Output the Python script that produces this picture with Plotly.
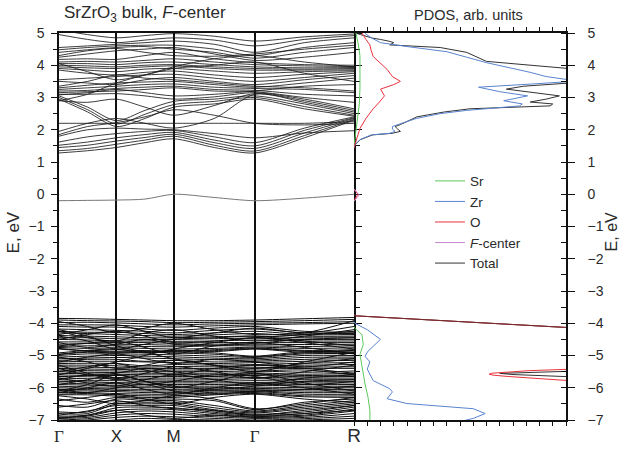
import plotly.graph_objects as go

# k-path: Γ - X - M - Γ - R (cubic Brillouin zone, distances in units of 2π/a)
k_path = [0.0, 0.25, 0.5, 0.75, 1.0, 1.354, 1.707, 2.140, 2.573]
k_sym = [0.0, 0.5, 1.0, 1.707, 2.573]
k_labels = ["<span style='font-family:Liberation Serif'>Γ</span>", "X", "M",
            "<span style='font-family:Liberation Serif'>Γ</span>",
            "<span style='font-size:19px'>R</span>"]

# conduction bands, eV at each k_path point
cond_bands = [
    [1.28, 1.35, 1.45, 1.60, 1.72, 1.45, 1.28, 1.75, 2.30],
    [1.35, 1.42, 1.55, 1.68, 1.80, 1.52, 1.34, 1.82, 2.32],
    [1.45, 1.52, 1.65, 1.76, 1.86, 1.60, 1.42, 1.90, 2.35],
    [1.52, 1.62, 1.75, 1.85, 1.92, 1.68, 1.50, 1.98, 2.37],
    [1.62, 1.78, 1.88, 1.95, 1.98, 1.78, 1.60, 2.05, 2.40],
    [1.80, 2.00, 2.05, 2.02, 2.00, 1.88, 1.75, 1.90, 1.97],
    [1.85, 2.10, 2.22, 2.40, 2.62, 2.45, 2.20, 2.15, 2.20],
    [2.20, 2.20, 2.20, 2.20, 2.20, 2.20, 2.20, 2.20, 2.25],
    [2.95, 2.55, 2.10, 2.35, 2.70, 2.80, 2.95, 2.65, 2.42],
    [3.00, 2.62, 2.18, 2.48, 2.78, 2.88, 3.00, 2.72, 2.45],
    [3.05, 2.70, 2.28, 2.60, 2.88, 2.95, 3.05, 2.80, 2.50],
    [1.95, 2.20, 2.35, 2.20, 2.05, 2.35, 3.10, 2.85, 2.55],
    [2.90, 2.85, 2.95, 2.70, 2.45, 2.75, 3.12, 2.90, 2.60],
    [3.10, 3.10, 3.12, 3.05, 2.95, 3.02, 3.15, 2.95, 2.65],
    [3.15, 3.18, 3.20, 3.25, 3.30, 3.20, 3.18, 3.00, 2.85],
    [3.20, 3.22, 3.28, 3.32, 3.35, 3.25, 3.22, 3.10, 3.05],
    [3.25, 3.30, 3.35, 3.40, 3.42, 3.32, 3.28, 3.25, 3.15],
    [3.30, 3.38, 3.45, 3.48, 3.50, 3.40, 3.32, 3.45, 3.60],
    [3.50, 3.45, 3.40, 3.55, 3.62, 3.50, 3.40, 3.55, 3.68],
    [3.55, 3.60, 3.65, 3.70, 3.72, 3.60, 3.50, 3.62, 3.75],
    [3.85, 3.75, 3.70, 3.78, 3.82, 3.70, 3.62, 3.72, 3.80],
    [3.90, 3.85, 3.80, 3.88, 3.90, 3.82, 3.75, 3.80, 3.83],
    [3.95, 3.92, 3.90, 3.95, 3.98, 3.90, 3.85, 3.85, 3.86],
    [4.00, 3.98, 3.95, 4.00, 4.02, 3.95, 3.90, 3.88, 3.90],
    [4.05, 4.05, 4.02, 4.08, 4.10, 4.02, 3.95, 3.92, 3.93],
    [4.10, 4.12, 4.10, 4.15, 4.20, 4.10, 4.02, 3.98, 3.96],
    [4.18, 4.20, 4.18, 4.30, 4.40, 4.20, 4.08, 4.02, 4.00],
    [4.25, 4.35, 4.45, 4.50, 4.55, 4.35, 4.15, 4.25, 4.40],
    [4.40, 4.48, 4.55, 4.58, 4.50, 4.40, 4.22, 4.40, 4.55],
    [4.48, 4.55, 4.60, 4.62, 4.62, 4.50, 4.30, 4.55, 4.70],
    [4.55, 4.60, 4.65, 4.70, 4.75, 4.65, 4.40, 4.70, 4.85],
    [4.95, 4.80, 4.70, 4.78, 4.85, 4.78, 4.60, 4.80, 4.92],
    [5.10, 4.95, 4.85, 4.92, 4.98, 4.90, 4.75, 4.88, 4.97],
    [3.35, 3.50, 3.70, 3.60, 3.55, 3.45, 3.35, 3.30, 3.20],
    [4.05, 3.80, 3.55, 3.70, 3.90, 4.00, 4.10, 3.75, 3.50],
    [2.90, 3.10, 3.45, 3.70, 3.95, 4.20, 4.30, 4.10, 3.95],
    [3.08, 3.15, 3.25, 3.15, 3.05, 3.10, 3.20, 3.35, 3.40],
    [4.30, 4.45, 4.52, 4.40, 4.30, 4.28, 4.35, 4.50, 4.62],
]

# F-center level in the gap
defect_band = [-0.20, -0.19, -0.18, -0.15, 0.00, -0.10, -0.20, -0.12, 0.00]

# valence bands (mostly O 2p), eV at each k_path point
val_bands = [
    [-3.85, -3.86, -3.88, -3.90, -3.92, -3.92, -3.90, -3.86, -3.82],
    [-3.90, -3.92, -3.93, -3.95, -3.98, -3.97, -3.95, -3.92, -3.88],
    [-3.98, -3.97, -3.99, -4.02, -4.05, -4.02, -4.00, -3.98, -3.95],
    [-4.05, -4.05, -4.06, -4.10, -4.12, -4.08, -4.05, -4.02, -4.00],
    [-4.10, -4.12, -4.12, -4.18, -4.22, -4.15, -4.10, -4.25, -4.28],
    [-4.18, -4.20, -4.22, -4.25, -4.30, -4.22, -4.18, -4.30, -4.32],
    [-4.25, -4.28, -4.28, -4.32, -4.35, -4.30, -4.25, -4.35, -4.35],
    [-4.30, -4.32, -4.35, -4.38, -4.40, -4.36, -4.32, -4.40, -4.40],
    [-4.38, -4.40, -4.42, -4.45, -4.45, -4.42, -4.40, -4.45, -4.45],
    [-4.45, -4.45, -4.48, -4.50, -4.50, -4.48, -4.46, -4.50, -4.50],
    [-4.50, -4.52, -4.55, -4.55, -4.56, -4.55, -4.52, -4.55, -4.55],
    [-4.58, -4.58, -4.60, -4.60, -4.62, -4.60, -4.60, -4.60, -4.60],
    [-4.65, -4.63, -4.65, -4.66, -4.68, -4.65, -4.65, -4.66, -4.65],
    [-4.72, -4.70, -4.70, -4.72, -4.73, -4.70, -4.70, -4.72, -4.70],
    [-4.75, -4.78, -4.76, -4.78, -4.80, -4.78, -4.74, -4.78, -4.76],
    [-4.78, -4.85, -4.82, -4.85, -4.86, -4.82, -4.77, -4.84, -4.82],
    [-4.80, -4.86, -4.87, -4.86, -4.87, -4.85, -4.79, -4.86, -4.86],
    [-4.96, -4.88, -4.90, -4.88, -4.89, -4.92, -5.02, -4.88, -4.90],
    [-4.97, -4.90, -4.92, -4.90, -4.92, -4.96, -5.04, -4.92, -4.92],
    [-5.00, -4.95, -4.95, -4.96, -4.98, -5.02, -5.06, -4.95, -4.94],
    [-5.05, -5.02, -5.00, -5.02, -5.04, -5.08, -5.10, -5.00, -5.00],
    [-5.10, -5.08, -5.06, -5.08, -5.10, -5.13, -5.14, -5.06, -5.05],
    [-5.15, -5.12, -5.12, -5.18, -5.15, -5.20, -5.18, -5.12, -5.10],
    [-5.20, -5.18, -5.18, -5.20, -5.22, -5.25, -5.22, -5.18, -5.15],
    [-5.25, -5.24, -5.25, -5.32, -5.28, -5.30, -5.28, -5.24, -5.22],
    [-5.30, -5.30, -5.32, -5.36, -5.34, -5.35, -5.32, -5.30, -5.28],
    [-5.35, -5.36, -5.38, -5.40, -5.40, -5.40, -5.38, -5.36, -5.35],
    [-5.40, -5.42, -5.43, -5.45, -5.45, -5.45, -5.42, -5.40, -5.40],
    [-5.45, -5.47, -5.48, -5.50, -5.50, -5.50, -5.48, -5.52, -5.48],
    [-5.50, -5.52, -5.53, -5.55, -5.55, -5.55, -5.54, -5.58, -5.55],
    [-5.55, -5.57, -5.58, -5.60, -5.60, -5.60, -5.58, -5.62, -5.60],
    [-5.60, -5.62, -5.62, -5.65, -5.65, -5.65, -5.62, -5.66, -5.65],
    [-5.65, -5.66, -5.68, -5.70, -5.70, -5.70, -5.68, -5.70, -5.70],
    [-5.70, -5.72, -5.72, -5.75, -5.76, -5.75, -5.72, -5.75, -5.75],
    [-5.75, -5.78, -5.78, -5.80, -5.80, -5.80, -5.78, -5.80, -5.80],
    [-5.80, -5.82, -5.84, -5.85, -5.85, -5.85, -5.84, -5.85, -5.85],
    [-5.85, -5.88, -5.88, -5.90, -5.90, -5.90, -5.88, -5.90, -5.90],
    [-5.90, -5.92, -5.94, -5.95, -5.95, -5.95, -5.92, -5.95, -5.95],
    [-5.95, -5.98, -5.98, -6.00, -6.00, -6.00, -5.98, -6.00, -6.00],
    [-6.00, -6.02, -6.04, -6.05, -6.05, -6.04, -6.02, -6.05, -6.05],
    [-6.05, -6.06, -6.08, -6.10, -6.10, -6.08, -6.06, -6.10, -6.10],
    [-6.10, -6.10, -6.12, -6.15, -6.15, -6.10, -6.10, -6.15, -6.15],
    [-6.15, -6.15, -6.18, -6.20, -6.20, -6.14, -6.12, -6.20, -6.20],
    [-6.20, -6.18, -6.22, -6.25, -6.25, -6.18, -6.15, -6.25, -6.25],
    [-6.22, -6.22, -6.26, -6.30, -6.30, -6.22, -6.18, -6.28, -6.30],
    [-6.35, -6.45, -6.30, -6.35, -6.35, -6.40, -6.68, -6.45, -6.35],
    [-6.55, -6.60, -6.35, -6.40, -6.40, -6.55, -6.72, -6.55, -6.40],
    [-6.75, -6.75, -6.45, -6.45, -6.45, -6.62, -6.75, -6.60, -6.45],
    [-6.80, -6.80, -6.50, -6.50, -6.50, -6.68, -6.78, -6.65, -6.50],
    [-6.85, -6.72, -6.55, -6.55, -6.55, -6.72, -6.82, -6.75, -6.55],
    [-6.88, -6.85, -6.62, -6.60, -6.62, -6.76, -6.85, -6.80, -6.60],
    [-6.92, -6.88, -6.70, -6.66, -6.68, -6.80, -6.88, -6.85, -6.66],
    [-6.95, -6.92, -6.78, -6.72, -6.75, -6.85, -6.92, -6.88, -6.72],
    [-7.00, -6.96, -6.85, -6.80, -6.82, -6.90, -6.95, -6.92, -6.80],
    [-7.05, -7.00, -6.92, -6.88, -6.90, -6.95, -7.00, -6.96, -6.88],
    [-7.10, -7.05, -7.00, -6.95, -6.98, -7.00, -7.05, -7.00, -6.95],
    # bands crossing the manifold
    [-4.20, -4.40, -4.70, -4.90, -5.10, -5.30, -5.50, -5.20, -4.90],
    [-5.60, -5.40, -5.20, -5.00, -4.80, -4.60, -4.45, -4.60, -4.80],
    [-6.10, -5.90, -5.60, -5.80, -6.00, -5.80, -5.55, -5.85, -6.10],
    [-4.40, -4.55, -4.80, -4.65, -4.50, -4.45, -4.40, -4.55, -4.70],
    [-5.30, -5.55, -5.75, -5.55, -5.35, -5.50, -5.70, -5.50, -5.30],
    [-6.40, -6.30, -6.20, -6.35, -6.50, -6.30, -6.20, -6.35, -6.45],
    [-3.95, -4.10, -4.30, -4.15, -4.00, -4.20, -4.35, -4.30, -3.92],
    [-4.35, -4.20, -4.05, -4.25, -4.45, -4.30, -4.15, -4.30, -4.10],
    [-4.60, -4.75, -4.65, -4.50, -4.65, -4.70, -4.62, -4.50, -4.45],
    [-5.20, -5.05, -4.95, -5.10, -5.25, -5.12, -5.20, -5.35, -5.20],
    [-5.50, -5.35, -5.25, -5.45, -5.60, -5.40, -5.30, -5.40, -5.55],
    [-5.70, -5.85, -5.95, -5.75, -5.60, -5.75, -5.90, -5.70, -5.60],
    [-5.90, -5.75, -5.60, -5.80, -5.95, -6.05, -5.95, -5.80, -5.75],
    [-6.05, -6.15, -6.00, -5.90, -6.10, -6.20, -6.10, -6.05, -5.95],
    [-5.05, -5.20, -5.40, -5.30, -5.15, -5.30, -5.40, -5.25, -5.10],
    [-4.50, -4.35, -4.25, -4.40, -4.60, -4.55, -4.45, -4.35, -4.25],
    [-6.25, -6.35, -6.50, -6.40, -6.25, -6.35, -6.65, -6.50, -6.30],
    [-6.60, -6.50, -6.40, -6.55, -6.65, -6.70, -6.85, -6.70, -6.55],
    [-6.95, -6.85, -6.70, -6.85, -6.95, -6.85, -6.90, -6.80, -6.70],
    [-5.40, -5.60, -5.55, -5.40, -5.50, -5.65, -5.50, -5.45, -5.60],
    [-4.25, -4.45, -4.55, -4.30, -4.20, -4.40, -4.55, -4.40, -4.20],
    [-5.75, -5.60, -5.70, -5.90, -5.80, -5.60, -5.65, -5.90, -5.80],
    [-6.15, -6.00, -5.85, -6.05, -6.20, -6.00, -5.85, -6.00, -6.20],
    [-4.70, -4.62, -4.55, -4.75, -4.95, -4.70, -4.60, -4.75, -4.95],
    [-4.92, -4.84, -4.80, -4.92, -4.84, -4.88, -4.80, -4.90, -4.84],
]

# projected DOS (arb. units) as (energy, value) pairs; None splits the energy windows
sr_e = [1.50, 2.00, 2.35, 2.80, 3.30, 3.80, 4.30, 4.70, 5.00, None,
        -4.10, -4.15, -4.35, -4.66, -4.97, -5.37, -5.88, -6.28, -6.70, -7.05]
sr_v = [0.00, 0.15, 0.30, 0.40, 0.45, 0.45, 0.45, 0.30, 0.15, None,
        0.00, 0.05, 0.60, 0.70, 0.45, 0.60, 0.83, 1.05, 1.20, 1.20]

zr_e = [1.45, 1.55, 1.70, 1.84, 1.89, 1.95, 2.02, 2.10, 2.20, 2.35, 2.50, 2.60, 2.74,
        2.80, 2.90, 3.05, 3.18, 3.32, 3.42, 3.50, 3.55, 3.65, 3.78, 3.95, 4.08, 4.25,
        4.42, 4.58, 4.70, 4.85, 4.94, 5.00, None,
        -3.95, -4.00, -4.20, -4.50, -4.87, -5.02, -5.20, -5.42, -5.78, -6.03, -6.13,
        -6.34, -6.49, -6.65, -6.80, -6.95, -7.05]
zr_v = [0.00, 0.10, 0.50, 1.30, 2.70, 3.10, 2.90, 2.90, 3.60, 4.70, 6.50, 8.50, 12.5,
        12.7, 11.3, 13.1, 11.0, 9.40, 13.5, 16.5, 16.2, 14.5, 13.3, 11.5, 10.0, 8.50,
        7.00, 4.00, 2.00, 1.30, 1.00, 0.80, None,
        0.00, 0.07, 1.00, 2.00, 1.05, 0.83, 1.20, 1.00, 1.45, 2.70, 2.90,
        2.50, 4.00, 9.00, 9.90, 9.00, 8.00]

o_e = [1.45, 1.69, 2.04, 2.35, 2.65, 2.85, 3.05, 3.26, 3.40, 3.50, 3.65, 3.87, 4.05,
       4.27, 4.45, 4.63, 4.80, 5.00, None,
       -0.20, 0.00, 0.15, None,
       -3.72, -3.77, -4.13, -4.20, None,
       -5.40, -5.43, -5.47, -5.51, -5.55, -5.58, -5.61, -5.65, -5.70, -5.76, -5.80]
o_v = [0.00, 0.20, 0.45, 0.90, 1.45, 1.90, 2.30, 2.00, 3.00, 3.50, 2.90, 2.50, 2.00,
       1.45, 1.30, 1.20, 0.90, 0.60, None,
       0.00, 0.30, 0.00, None,
       0.00, 0.10, 16.0, 17.0, None,
       17.0, 16.0, 13.2, 11.3, 10.4, 10.2, 10.5, 11.6, 13.6, 16.0, 17.0]

fc_e = [-0.22, -0.02, 0.16]
fc_v = [0.00, 0.40, 0.00]

tot_e = [1.40, 1.53, 1.69, 1.84, 1.89, 1.95, 2.02, 2.10, 2.16, 2.25, 2.40, 2.55, 2.65,
         2.74, 2.80, 2.86, 2.95, 3.05, 3.15, 3.26, 3.35, 3.47, 3.55, 3.87, 4.12, 4.40,
         4.55, 4.63, 4.70, 4.74, 4.80, 4.84, 4.95, 5.00, None,
         -3.72, -3.77, -4.13, -4.20, None,
         -5.48, -5.52, -5.555, -5.59, -5.63, -5.67]
tot_v = [0.00, 0.07, 0.45, 1.40, 2.90, 3.50, 3.30, 3.10, 3.50, 4.00, 4.75, 6.80, 8.75,
         14.8, 15.0, 13.3, 14.5, 15.5, 13.5, 11.5, 12.8, 17.0, 17.0, 17.0, 10.0, 8.50,
         6.50, 2.70, 3.00, 2.70, 2.00, 1.40, 0.50, 0.10, None,
         0.00, 0.10, 16.0, 17.0, None,
         17.0, 13.0, 11.0, 12.0, 14.5, 17.0]

FONT = "Liberation Sans, Arial, sans-serif"
TXT = "#2a2a2a"


def band_xy(bands):
    xs, ys = [], []
    for b in bands:
        xs += k_path + [None]
        ys += b + [None]
    return xs, ys


fig = go.Figure()

for bands, color, width in [(val_bands, "#0d0d0d", 1.0),
                            (cond_bands, "#1a1a1a", 0.85),
                            ([defect_band], "#777777", 1.0)]:
    bx, by = band_xy(bands)
    fig.add_trace(go.Scatter(x=bx, y=by, mode="lines",
                             line=dict(color=color, width=width, shape="spline", smoothing=0.8),
                             xaxis="x", yaxis="y", showlegend=False, hoverinfo="skip"))

pdos = [
    ("Total", tot_v, tot_e, "#333333", 5),
    ("Zr", zr_v, zr_e, "#5a84d0", 2),
    ("Sr", sr_v, sr_e, "#5cc85c", 1),
    ("O", o_v, o_e, "#e8323c", 3),
    ("<i>F</i>-center", fc_v, fc_e, "#c88ad0", 4),
]
for name, xv, ev, color, rank in pdos:
    fig.add_trace(go.Scatter(x=xv, y=ev, mode="lines", name=name, legendrank=rank,
                             line=dict(color=color, width=1), connectgaps=False,
                             xaxis="x2", yaxis="y2", hoverinfo="skip"))

# total DOS edge at the valence-band top, overlaid on the O curve
i0 = tot_e.index(None) + 1
i1 = tot_e.index(None, i0)
fig.add_trace(go.Scatter(x=tot_v[i0:i1], y=tot_e[i0:i1], mode="lines", opacity=0.55,
                         line=dict(color="#222222", width=1), xaxis="x2", yaxis="y2",
                         showlegend=False, hoverinfo="skip"))

split = (354 - 59) / 507

fig.update_layout(
    width=620, height=458,
    margin=dict(l=59, r=54, t=33, b=31),
    paper_bgcolor="white", plot_bgcolor="white",
    font=dict(family=FONT, size=14, color=TXT),
    xaxis=dict(domain=[0, split], range=[0, 2.573], tickvals=k_sym, ticktext=k_labels,
               ticks="", showgrid=True, gridcolor="#111111", gridwidth=1.5,
               showline=True, linecolor="#111111", linewidth=1.5, mirror=True,
               zeroline=False, tickfont=dict(size=17, color=TXT), fixedrange=True),
    yaxis=dict(domain=[0, 1], range=[-7, 5], tick0=0, dtick=1, ticks="outside",
               ticklen=6, tickwidth=1, tickcolor="#111111", ticklabelstandoff=4,
               minor=dict(dtick=0.5, ticks="outside", ticklen=4, tickcolor="#111111"),
               showline=True, linecolor="#111111", linewidth=1.5, mirror="ticks",
               showgrid=False, zeroline=False, tickfont=dict(size=14, color=TXT)),
    xaxis2=dict(domain=[split, 1], range=[0, 16], anchor="y2", tick0=0, dtick=1,
                ticks="outside", ticklen=4, tickcolor="#111111", showticklabels=False,
                showline=True, linecolor="#111111", linewidth=1.5, mirror="ticks",
                showgrid=False, zeroline=False),
    yaxis2=dict(domain=[0, 1], range=[-7, 5], anchor="x2", side="right", tick0=0, dtick=1,
                ticks="outside", ticklen=7, tickcolor="#111111", ticklabelstandoff=10,
                minor=dict(dtick=0.5, ticks="inside", ticklen=5, tickcolor="#111111"),
                showline=True, linecolor="#111111", linewidth=1.5,
                showgrid=False, zeroline=False, tickfont=dict(size=14, color=TXT)),
    legend=dict(x=(430 - 59) / 507, y=(427 - 168) / 394, xanchor="left", yanchor="top",
                bgcolor="rgba(0,0,0,0)", font=dict(size=13.5, color=TXT), tracegroupgap=0),
    showlegend=True,
    annotations=[
        dict(text="SrZrO<sub>3</sub> bulk, <i>F</i>-center", xref="paper", yref="paper",
             x=(62 - 59) / 507, y=(427 - 14) / 394, xanchor="left", yanchor="middle",
             showarrow=False, font=dict(size=17, color=TXT)),
        dict(text="PDOS, arb. units", xref="paper", yref="paper",
             x=(468 - 59) / 507, y=(427 - 15) / 394, xanchor="center", yanchor="middle",
             showarrow=False, font=dict(size=14.5, color=TXT)),
        dict(text="E, eV", xref="paper", yref="paper", textangle=-90,
             x=(13 - 59) / 507, y=(427 - 236) / 394, xanchor="center", yanchor="middle",
             showarrow=False, font=dict(size=17, color=TXT)),
        dict(text="E, eV", xref="paper", yref="paper", textangle=-90,
             x=(611 - 59) / 507, y=(427 - 236) / 394, xanchor="center", yanchor="middle",
             showarrow=False, font=dict(size=16, color=TXT)),
    ],
)

fig.write_html("out.html")
